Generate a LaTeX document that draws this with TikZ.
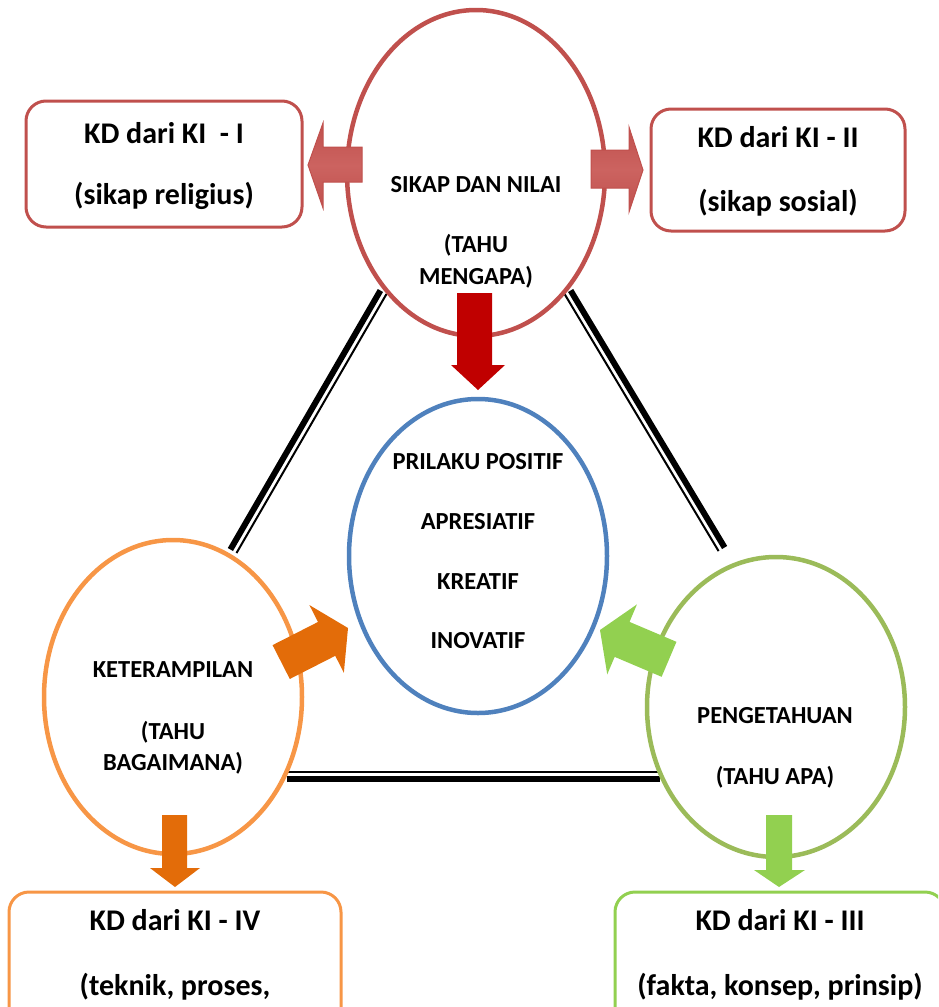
\documentclass[tikz,border=0pt]{standalone}
\usepackage{fontspec}
\setmainfont{Carlito}
\usetikzlibrary{shapes.geometric}
\definecolor{kdred}{HTML}{C0504D}
\definecolor{kdblue}{HTML}{4F81BD}
\definecolor{kdorange}{HTML}{F79646}
\definecolor{kdolive}{HTML}{9BBB59}
\definecolor{kdgreen}{HTML}{92D050}
\definecolor{kddorange}{HTML}{E36C09}
\definecolor{kddred}{HTML}{C00000}
\definecolor{kdlred}{HTML}{CC6360}
\tikzset{
  box/.style={draw, line width=3pt, rounded corners=20pt, fill=white},
  oval/.style={draw, ellipse, line width=4.5pt, inner sep=0pt},
  lbl/.style={font=\fontsize{24.5}{29}\selectfont\bfseries, align=center, inner sep=0pt},
  blbl/.style={font=\fontsize{30}{36}\selectfont\bfseries, inner sep=0pt},
  thickline/.style={line width=6pt, black},
  thinline/.style={line width=2pt, black},
  redblock/.style={draw=kdred, line width=1pt, top color=kdred, bottom color=kdred, middle color=kdlred},
}
\begin{document}
\begin{tikzpicture}[x=1pt, y=-1pt]
\useasboundingbox (0,0) rectangle (938,1007);
\clip (0,0) rectangle (938,1007);
% connector coordinates
\coordinate (la) at (383,292);
\coordinate (lb) at (233,551);
\coordinate (ra) at (568,292);
\coordinate (rb) at (722,549);
\coordinate (ba) at (287,776);
\coordinate (bb) at (660,776);
% compound lines
\draw[thickline] ([shift={(-2.6,-1.5)}]la) -- ([shift={(-2.6,-1.5)}]lb);
\draw[thinline]  ([shift={(3.5,2.0)}]la) -- ([shift={(3.5,2.0)}]lb);
\draw[thickline] ([shift={(2.6,-1.5)}]ra) -- ([shift={(2.6,-1.5)}]rb);
\draw[thinline]  ([shift={(-3.4,2.1)}]ra) -- ([shift={(-3.4,2.1)}]rb);
\draw[thickline] ([shift={(0,3)}]ba) -- ([shift={(0,3)}]bb);
\draw[thinline]  ([shift={(0,-4)}]ba) -- ([shift={(0,-4)}]bb);
% boxes
\node[box, draw=kdred, minimum width=276pt, minimum height=126pt] (kd1) at (164,164) {};
\node[box, draw=kdred, minimum width=254pt, minimum height=122pt] (kd2) at (778,170) {};
\node[box, draw=kdorange, minimum width=332pt, minimum height=150pt] (kd4) at (175,967) {};
\node[box, draw=kdgreen, minimum width=330pt, minimum height=150pt] (kd3) at (780,967) {};
% ellipses
\node[oval, draw=kdred, minimum width=258pt, minimum height=326pt] (sikap) at (476,173) {};
\node[oval, draw=kdblue, minimum width=258pt, minimum height=314pt] (prilaku) at (478,556) {};
\node[oval, draw=kdorange, minimum width=258pt, minimum height=314pt] (ketr) at (173,697) {};
\node[oval, draw=kdolive, minimum width=258pt, minimum height=300pt] (penget) at (776,707) {};
% texts in boxes
\node[blbl] (kd1a) at (164,133) {KD dari KI\ \ - I};
\node[blbl] (kd1b) at (164,196) {(sikap religius)};
\node[blbl] (kd2a) at (778,137) {KD dari KI - II};
\node[blbl] (kd2b) at (778,203) {(sikap sosial)};
\node[blbl] (kd4a) at (175,920) {KD dari KI - IV};
\node[blbl] (kd4b) at (175,987) {(teknik, proses,};
\node[blbl] (kd3a) at (780,920) {KD dari KI - III};
\node[blbl] (kd3b) at (780,987) {(fakta, konsep, prinsip)};
% texts in ellipses
\node[lbl] (s1) at (476,185) {SIKAP DAN NILAI};
\node[lbl] (s2) at (476,245) {(TAHU};
\node[lbl] (s3) at (476,277) {MENGAPA)};
\node[lbl] (p1) at (478,462) {PRILAKU POSITIF};
\node[lbl] (p2) at (478,522) {APRESIATIF};
\node[lbl] (p3) at (478,582) {KREATIF};
\node[lbl] (p4) at (478,641) {INOVATIF};
\node[lbl] (k1) at (173,670) {KETERAMPILAN};
\node[lbl] (k2) at (173,732) {(TAHU};
\node[lbl] (k3) at (173,763) {BAGAIMANA)};
\node[lbl] (g1) at (775,716) {PENGETAHUAN};
\node[lbl] (g2) at (775,777) {(TAHU APA)};
% side red block arrows
\path[redblock] (362,147) -- (323,147) -- (323,123) -- (308,165) -- (323,208) -- (323,182) -- (362,182) -- cycle;
\path[redblock] (591,150) -- (629,150) -- (629,127) -- (643,170) -- (629,212) -- (629,188) -- (591,188) -- cycle;
% down arrows
\fill[kddred] (457,293) -- (492,293) -- (492,365) -- (505,365) -- (478,390) -- (451,365) -- (457,365) -- cycle;
\fill[kddorange] (162,815) -- (187,815) -- (187,868) -- (200,868) -- (175,887) -- (150,868) -- (162,868) -- cycle;
\fill[kdgreen] (766,815) -- (792,815) -- (792,870) -- (805,870) -- (779,887) -- (754,870) -- (766,870) -- cycle;
% diagonal arrows
\begin{scope}[shift={(348,628)}, rotate=27]
  \fill[kddorange] (0,0) -- (-24,-38) -- (-24,-19) -- (-75,-19) -- (-75,19) -- (-24,19) -- (-24,38) -- cycle;
\end{scope}
\begin{scope}[shift={(600,630)}, rotate=157]
  \fill[kdgreen] (0,0) -- (-24,-38) -- (-24,-19) -- (-75,-19) -- (-75,19) -- (-24,19) -- (-24,38) -- cycle;
\end{scope}
\end{tikzpicture}
\end{document}
